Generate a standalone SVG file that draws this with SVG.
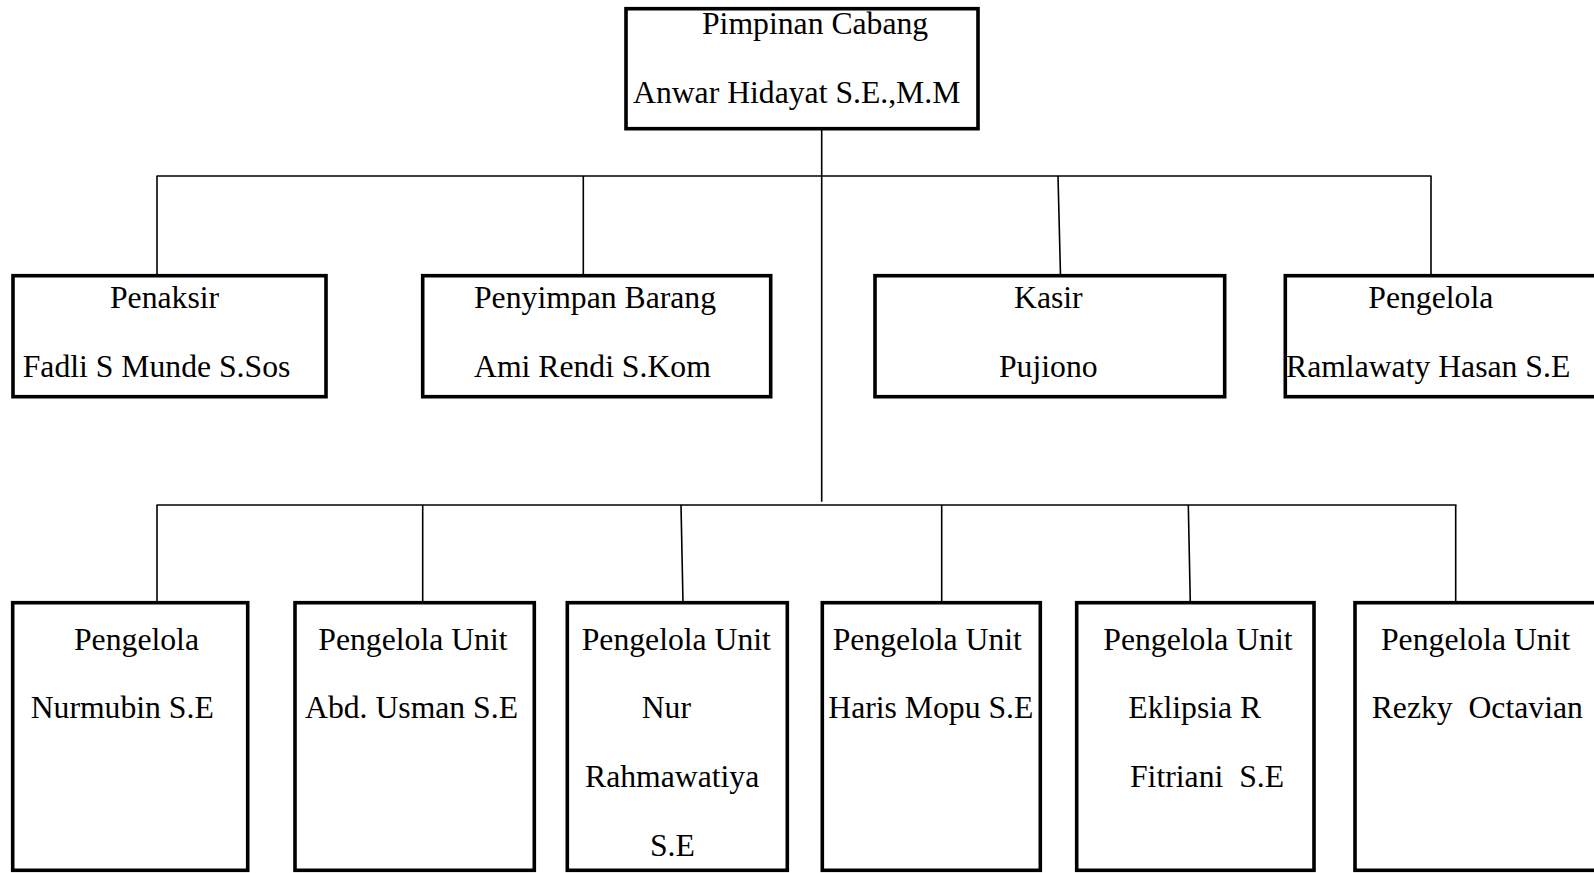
<svg xmlns="http://www.w3.org/2000/svg" width="1594" height="873" viewBox="0 0 1594 873">
<style>
.box{fill:#fff;stroke:#000;stroke-width:3.6}
.ln{fill:none;stroke:#000;stroke-width:1.6}
text{font-family:"Liberation Serif","Times New Roman",serif;font-size:31.7px;fill:#000;white-space:pre}
</style>
<rect width="1594" height="873" fill="#fff"/>
<g id="connectors">
<line class="ln" x1="821.7" y1="129" x2="821.7" y2="501.7"/>
<line class="ln" x1="156.5" y1="176" x2="1431.5" y2="176"/>
<line class="ln" x1="157" y1="176" x2="157" y2="276"/>
<line class="ln" x1="583.3" y1="176" x2="583.3" y2="276"/>
<line class="ln" x1="1058" y1="176" x2="1060.5" y2="276"/>
<line class="ln" x1="1431" y1="176" x2="1431" y2="276"/>
<line class="ln" x1="156.5" y1="505" x2="1456.5" y2="505"/>
<line class="ln" x1="157" y1="505" x2="157" y2="603"/>
<line class="ln" x1="422.7" y1="505" x2="422.7" y2="603"/>
<line class="ln" x1="681" y1="505" x2="683" y2="603"/>
<line class="ln" x1="941.7" y1="505" x2="941.7" y2="603"/>
<line class="ln" x1="1188.3" y1="505" x2="1190.3" y2="603"/>
<line class="ln" x1="1455.7" y1="505" x2="1455.7" y2="603"/>
</g>
<g id="pimpinan">
<rect class="box" x="626" y="8.7" width="352" height="120"/>
<text x="702" y="33.5">Pimpinan Cabang</text>
<text x="633" y="103.3">Anwar Hidayat S.E.,M.M</text>
</g>
<g id="penaksir">
<rect class="box" x="13" y="275.7" width="313" height="121"/>
<text x="110" y="308.3">Penaksir</text>
<text x="22.7" y="376.7">Fadli S Munde S.Sos</text>
</g>
<g id="penyimpan">
<rect class="box" x="422.7" y="275.7" width="348" height="121"/>
<text x="474" y="308.3">Penyimpan Barang</text>
<text x="474" y="376.7">Ami Rendi S.Kom</text>
</g>
<g id="kasir">
<rect class="box" x="875" y="275.7" width="349.7" height="121"/>
<text x="1014" y="308.3">Kasir</text>
<text x="999" y="376.7">Pujiono</text>
</g>
<g id="pengelola-top">
<rect class="box" x="1285.3" y="275.7" width="320" height="121"/>
<text x="1368.3" y="308.3">Pengelola</text>
<text x="1286" y="376.7">Ramlawaty Hasan S.E</text>
</g>
<g id="pengelola-nurmubin">
<rect class="box" x="12.7" y="602.7" width="235" height="267.6"/>
<text x="74" y="650">Pengelola</text>
<text x="30.7" y="718.3">Nurmubin S.E</text>
</g>
<g id="unit-usman">
<rect class="box" x="295" y="602.7" width="239.3" height="267.6"/>
<text x="318.3" y="650">Pengelola Unit</text>
<text x="305" y="718.3">Abd. Usman S.E</text>
</g>
<g id="unit-nur">
<rect class="box" x="567.3" y="602.7" width="220" height="267.6"/>
<text x="581.7" y="650">Pengelola Unit</text>
<text x="641.7" y="718.3">Nur</text>
<text x="585" y="786.7">Rahmawatiya</text>
<text x="650" y="856">S.E</text>
</g>
<g id="unit-haris">
<rect class="box" x="822.3" y="602.7" width="218" height="267.6"/>
<text x="832.7" y="650">Pengelola Unit</text>
<text x="828.3" y="718.3">Haris Mopu S.E</text>
</g>
<g id="unit-eklipsia">
<rect class="box" x="1076.7" y="602.7" width="237.3" height="267.6"/>
<text x="1103.3" y="650">Pengelola Unit</text>
<text x="1128.3" y="718.3">Eklipsia R</text>
<text x="1130" y="786.7">Fitriani  S.E</text>
</g>
<g id="unit-rezky">
<rect class="box" x="1355" y="602.7" width="250" height="267.6"/>
<text x="1381" y="650">Pengelola Unit</text>
<text x="1371.7" y="718.3">Rezky  Octavian</text>
</g>
</svg>
